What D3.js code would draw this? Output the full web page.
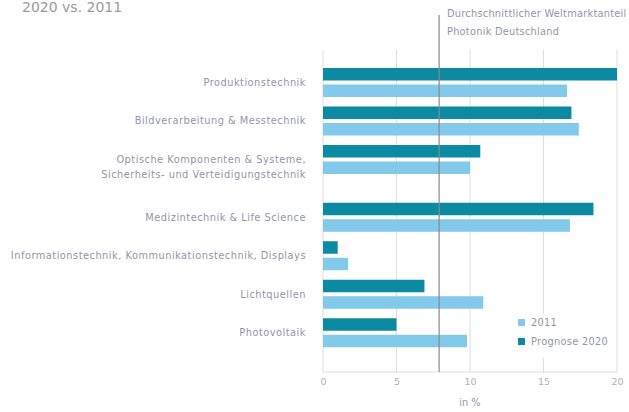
<!DOCTYPE html>
<html>
<head>
<meta charset="utf-8">
<script src="https://cdn.jsdelivr.net/npm/d3@7/dist/d3.min.js"></script>
<style>
  body { margin: 0; background: #fff; }
  svg text { font-family: "DejaVu Sans", sans-serif; }
</style>
</head>
<body>
<div id="chart"></div>
<script>
// data (Weltmarktanteil in %)
var categories = [
  ["Produktionstechnik"],
  ["Bildverarbeitung & Messtechnik"],
  ["Optische Komponenten & Systeme,", "Sicherheits- und Verteidigungstechnik"],
  ["Medizintechnik & Life Science"],
  ["Informationstechnik, Kommunikationstechnik, Displays"],
  ["Lichtquellen"],
  ["Photovoltaik"]
];
var prognose2020 = [20.0, 16.9, 10.7, 18.4, 1.0, 6.9, 5.0];
var values2011   = [16.6, 17.4, 10.0, 16.8, 1.7, 10.9, 9.8];
var average = 7.9;
var xTicks = [0, 5, 10, 15, 20];
var seriesNames = ["2011", "Prognose 2020"];

var colDark = "#0b8aa2", colLight = "#82c9ea", textCol = "#9393aa";
var fs = 9.8;

var width = 629, height = 412;
var svg = d3.select("#chart").append("svg")
  .attr("width", width).attr("height", height);

// title (cut off at the top edge in the original)
svg.append("text").attr("x", 22).attr("y", 12)
  .attr("font-size", 14).attr("fill", "#9a9a9a").text("2020 vs. 2011");

var x = d3.scaleLinear().domain([0, 20]).range([323, 617]);

// slot position of each group: two-line labels take an extra half step
var slots = [], s = 0;
categories.forEach(function (c) { slots.push(s); s += 1 + 0.5 * (c.length - 1); });
var y = d3.scaleLinear().domain([0, 1]).range([68, 106.5]);

var barH = 12.5, gap = 4;

// grid
svg.append("g").selectAll("line").data(xTicks).enter().append("line")
  .attr("x1", function (d) { return x(d); }).attr("x2", function (d) { return x(d); })
  .attr("y1", 50).attr("y2", 372)
  .attr("stroke", "#dedede").attr("stroke-width", 1);

svg.append("line").attr("x1", x(0)).attr("x2", x(20)).attr("y1", 372).attr("y2", 372)
  .attr("stroke", "#dedede");

// bars
var g = svg.append("g");
g.selectAll(".dark").data(prognose2020).enter().append("rect")
  .attr("x", x(0)).attr("y", function (d, i) { return y(slots[i]); })
  .attr("width", function (d) { return x(d) - x(0); }).attr("height", barH)
  .attr("fill", colDark);
g.selectAll(".light").data(values2011).enter().append("rect")
  .attr("x", x(0)).attr("y", function (d, i) { return y(slots[i]) + barH + gap; })
  .attr("width", function (d) { return x(d) - x(0); }).attr("height", barH)
  .attr("fill", colLight);

// category labels
var lab = svg.append("g").selectAll("text").data(categories).enter().append("text")
  .attr("text-anchor", "end").attr("font-size", fs).attr("fill", textCol)
  .attr("letter-spacing", 0.5)
  .attr("x", 306)
  .attr("y", function (d, i) { return y(slots[i]) + barH + gap / 2; });
lab.selectAll("tspan").data(function (d) { return d; }).enter().append("tspan")
  .attr("x", 306)
  .attr("dy", function (d, j) { return j === 0 ? "0.35em" : 15; })
  .text(function (d) { return d; });

// legend with white background
var leg = svg.append("g");
leg.append("rect").attr("x", 513).attr("y", 314).attr("width", 100).attr("height", 44).attr("fill", "#fff");
leg.selectAll("rect.sw").data(seriesNames).enter().append("rect")
  .attr("class", "sw")
  .attr("x", 518).attr("y", function (d, i) { return 319 + i * 19; })
  .attr("width", 7).attr("height", 7)
  .attr("fill", function (d, i) { return i === 0 ? colLight : colDark; });
leg.selectAll("text").data(seriesNames).enter().append("text")
  .attr("x", 531).attr("y", function (d, i) { return 322.5 + i * 19; })
  .attr("dy", "0.35em").attr("font-size", fs).attr("fill", textCol)
  .attr("letter-spacing", 0.3)
  .text(function (d) { return d; });

// average line
svg.append("line").attr("x1", x(average)).attr("x2", x(average))
  .attr("y1", 15).attr("y2", 372)
  .attr("stroke", "#8a8a8a").attr("stroke-width", 1.2);
svg.append("text").attr("x", 447).attr("y", 14).attr("dy", "0.35em")
  .attr("font-size", fs).attr("fill", textCol).attr("letter-spacing", 0.25)
  .text("Durchschnittlicher Weltmarktanteil");
svg.append("text").attr("x", 447).attr("y", 32).attr("dy", "0.35em")
  .attr("font-size", fs).attr("fill", textCol).attr("letter-spacing", 0.25)
  .text("Photonik Deutschland");

// x axis
var axis = svg.append("g").attr("transform", "translate(0,372)")
  .call(d3.axisBottom(x).tickValues(xTicks).tickSize(0).tickPadding(6));
axis.select(".domain").remove();
axis.selectAll("text").attr("font-size", 9.5).attr("fill", "#b0b0b8")
  .attr("font-family", "DejaVu Sans, sans-serif");

svg.append("text").attr("x", 470).attr("y", 403).attr("dy", "0.35em")
  .attr("text-anchor", "middle").attr("font-size", fs).attr("fill", textCol).text("in %");
</script>
</body>
</html>
